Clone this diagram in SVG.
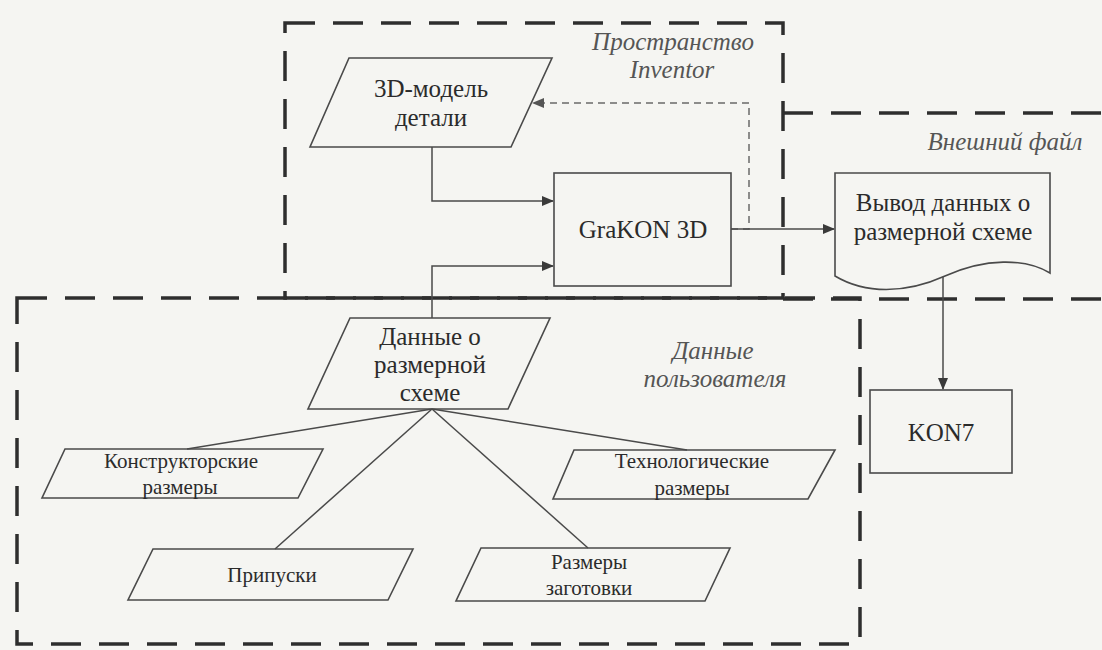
<svg xmlns="http://www.w3.org/2000/svg" width="1102" height="650" viewBox="0 0 1102 650" font-family="Liberation Serif, DejaVu Serif, serif">
<style>
.region{fill:none;stroke:#2e2e2e;stroke-width:3.5;stroke-dasharray:30 18}
.node{fill:none;stroke:#4a4a4a;stroke-width:1.6}
.conn{fill:none;stroke:#4a4a4a;stroke-width:1.5}
.dash{fill:none;stroke:#6a6a6a;stroke-width:1.5;stroke-dasharray:7 5}
.t{font-size:25px;fill:#2b2b2b;text-anchor:middle}
.s{font-size:21px;fill:#2b2b2b;text-anchor:middle}
.lab{font-style:italic;font-size:25px;fill:#555;text-anchor:middle}
</style>
<defs>
<marker id="ah" markerWidth="12" markerHeight="10" refX="11" refY="5" orient="auto" markerUnits="userSpaceOnUse">
<path d="M0,0 L12,5 L0,10 Z" fill="#3a3a3a"/>
</marker>
<marker id="ahg" markerWidth="12" markerHeight="10" refX="11" refY="5" orient="auto" markerUnits="userSpaceOnUse">
<path d="M0,0 L12,5 L0,10 Z" fill="#555"/>
</marker>
</defs>
<rect width="1102" height="650" fill="#f5f5f2"/>

<g id="regions">
<g id="region-inventor">
<rect class="region" x="285" y="23" width="498" height="275"/>
<text class="lab" x="673" y="50">Пространство</text>
<text class="lab" x="672" y="78">Inventor</text>
</g>
<g id="region-external">
<path class="region" d="M783,113 H1102 M783,299 H1102"/>
<text class="lab" x="1005" y="150">Внешний файл</text>
</g>
<g id="region-user">
<rect class="region" x="17" y="298" width="843" height="346"/>
<text class="lab" x="713" y="359">Данные</text>
<text class="lab" x="715" y="387">пользователя</text>
</g>
</g>

<g id="connectors">
<path class="conn" d="M432,147 V201 H553" marker-end="url(#ah)"/>
<path class="conn" d="M432,318 V266 H553" marker-end="url(#ah)"/>
<path class="dash" d="M731,229 H749 V103 H533" marker-end="url(#ahg)"/>
<path class="conn" d="M731,229 H834" marker-end="url(#ah)"/>
<path class="conn" d="M943,277 V389" marker-end="url(#ah)"/>
<path class="conn" d="M432,409 L187,449"/>
<path class="conn" d="M432,409 L275,549"/>
<path class="conn" d="M432,409 L588,548"/>
<path class="conn" d="M432,409 L687,450"/>
</g>

<g id="node-3d-model">
<polygon class="node" points="349,58 552,58 511,147 310,147"/>
<text class="t" x="431" y="97">3D-модель</text>
<text class="t" x="431" y="126">детали</text>
</g>

<g id="node-grakon">
<rect class="node" x="554" y="173" width="177" height="113"/>
<text class="t" x="643" y="238">GraKON 3D</text>
</g>

<g id="node-output">
<path class="node" d="M835,173 H1050 V273 C1025,258 985,258 945,276 C905,294 865,294 835,276 Z"/>
<text class="t" x="943" y="211">Вывод данных о</text>
<text class="t" x="943" y="240">размерной схеме</text>
</g>

<g id="node-kon7">
<rect class="node" x="870" y="390" width="142" height="83"/>
<text class="t" x="941" y="441">KON7</text>
</g>

<g id="node-data">
<polygon class="node" points="350,318 550,318 508,409 308,409"/>
<text class="t" x="430" y="345">Данные о</text>
<text class="t" x="430" y="373">размерной</text>
<text class="t" x="430" y="401">схеме</text>
</g>

<g id="node-konstr">
<polygon class="node" points="65,449 323,449 298,498 42,498"/>
<text class="s" x="181" y="468">Конструкторские</text>
<text class="s" x="180" y="494">размеры</text>
</g>

<g id="node-tech">
<polygon class="node" points="574,450 835,450 808,499 553,499"/>
<text class="s" x="692" y="468">Технологические</text>
<text class="s" x="692" y="495">размеры</text>
</g>

<g id="node-pripuski">
<polygon class="node" points="153,549 413,549 388,600 128,600"/>
<text class="s" x="272" y="582">Припуски</text>
</g>

<g id="node-zagotovka">
<polygon class="node" points="481,548 730,548 705,601 456,601"/>
<text class="s" x="589" y="569">Размеры</text>
<text class="s" x="589" y="595">заготовки</text>
</g>
</svg>
